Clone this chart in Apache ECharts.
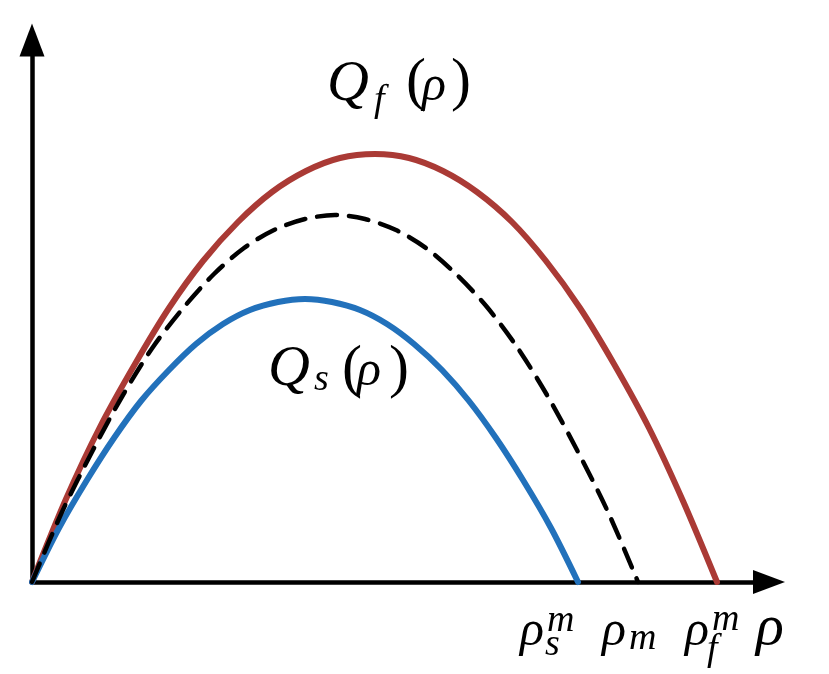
<!DOCTYPE html>
<html>
<head>
<meta charset="utf-8">
<script src="https://cdn.jsdelivr.net/npm/echarts@6/dist/echarts.min.js"></script>
<style>
  html, body { margin: 0; padding: 0; background: #fff; }
  #chart { width: 829px; height: 674px; }
</style>
</head>
<body>
<div id="chart"></div>
<script>
// Flux curves: [density, flux] in arbitrary units
const fastFlux = [[0,0],[34,83],[68,155],[103,218],[137,274],[171,321],[206,360],[240,390],[274,411],[308,424],[343,428],[377,424],[411,411],[445,390],[480,360],[514,321],[548,274],[582,218],[617,154],[651,81],[685,0]];
const slowFlux = [[0,0],[27,54],[55,102],[82,144],[109,181],[137,212],[164,238],[191,258],[218,272],[246,280],[273,283],[300,280],[328,272],[355,258],[382,238],[410,212],[437,181],[464,144],[491,102],[519,54],[546,0]];
const mixFlux  = [[0,0],[30,70],[61,132],[91,187],[121,235],[152,275],[182,308],[212,334],[242,352],[273,363],[303,367],[333,363],[364,352],[394,334],[424,308],[455,275],[485,235],[515,187],[545,132],[576,70],[606,0]];

const RED = '#AA3A35';
const BLUE = '#2271BB';
const FONT = '"Liberation Serif", "DejaVu Serif", serif';

// a single glyph run placed by its left edge and baseline
function glyph(text, x, baseline, size) {
  return {
    type: 'text', x: x, y: baseline - 0.34 * size, z: 10,
    style: {
      text: text, fontFamily: FONT, fontStyle: 'italic', fontSize: size,
      fill: '#000', align: 'left', verticalAlign: 'middle'
    }
  };
}
function upright(text, x, baseline, size) {
  const g = glyph(text, x, baseline, size);
  g.style.fontStyle = 'normal';
  return g;
}

const labels = [
  // Q_f(ρ)
  glyph('Q', 327, 104, 58), glyph('f', 374, 114, 38),
  upright('(', 406, 104, 60), glyph('ρ', 422, 104, 50), upright(')', 451, 104, 60),
  // Q_s(ρ)
  glyph('Q', 268, 389, 58), glyph('s', 314, 393, 38),
  upright('(', 342, 391, 60), glyph('ρ', 357, 389, 50), upright(')', 389, 391, 60),
  // ρ_s^m
  glyph('ρ', 520, 649, 50), glyph('m', 547, 634, 38), glyph('s', 545, 658, 38),
  // ρ_m
  glyph('ρ', 602, 649, 50), glyph('m', 629, 652, 38),
  // ρ_f^m
  glyph('ρ', 685, 649, 50), glyph('m', 712, 633, 38), glyph('f', 707, 663, 38),
  // axis name ρ
  glyph('ρ', 756, 648, 58)
];

const chart = echarts.init(document.getElementById('chart'), null, { renderer: 'canvas' });
chart.setOption({
  animation: false,
  backgroundColor: '#fff',
  grid: { left: 32, top: 40, width: 737, height: 542 },
  xAxis: {
    type: 'value', min: 0, max: 737,
    axisLine: { show: true, onZero: false, symbol: ['none', 'triangle'], symbolSize: [24, 32],
      lineStyle: { color: '#000', width: 4.5 } },
    axisTick: { show: false }, axisLabel: { show: false }, splitLine: { show: false }
  },
  yAxis: {
    type: 'value', min: 0, max: 542,
    axisLine: { show: true, onZero: false, symbol: ['none', 'triangle'], symbolSize: [25, 33],
      lineStyle: { color: '#000', width: 4.5 } },
    axisTick: { show: false }, axisLabel: { show: false }, splitLine: { show: false }
  },
  series: [
    { type: 'line', data: fastFlux, smooth: 0.3, symbol: 'none', clip: false,
      lineStyle: { color: RED, width: 6, cap: 'round' } },
    { type: 'line', data: slowFlux, smooth: 0.3, symbol: 'none', clip: false,
      lineStyle: { color: BLUE, width: 6, cap: 'round' } },
    { type: 'line', data: mixFlux, smooth: 0.3, symbol: 'none', clip: false,
      lineStyle: { color: '#000', width: 4.5, type: [20, 12], cap: 'round' } }
  ],
  graphic: labels
});
</script>
</body>
</html>
